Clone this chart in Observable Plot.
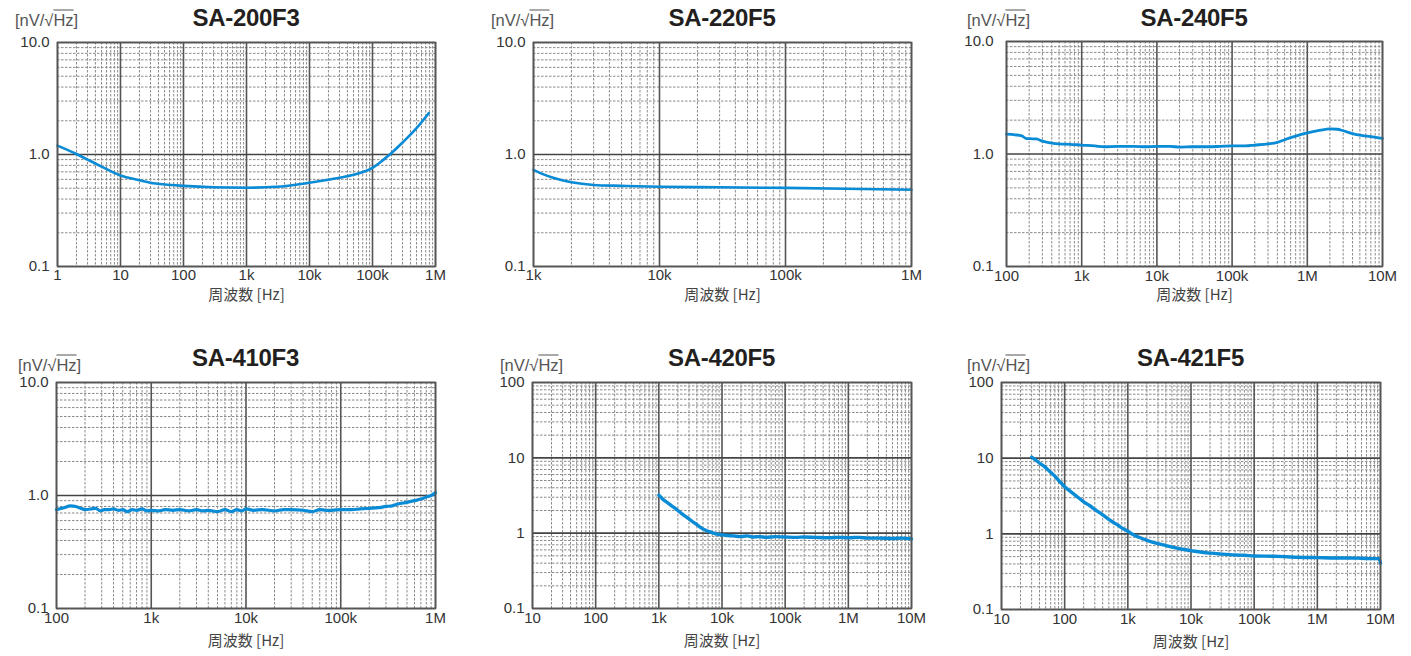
<!DOCTYPE html>
<html>
<head>
<meta charset="utf-8">
<script src="https://cdn.jsdelivr.net/npm/d3@7"></script>
<script src="https://cdn.jsdelivr.net/npm/@observablehq/plot@0.6"></script>
<style>
  html, body { margin: 0; padding: 0; background: #fff; }
  #root { position: relative; width: 1411px; height: 656px; overflow: hidden; font-family: "Liberation Sans", Arial, sans-serif; }
  .pan { position: absolute; }
  .pan svg { max-width: none !important; }
  .title { position: absolute; font-family: "Liberation Sans", Arial, sans-serif; font-weight: bold; font-size: 24px; color: #231f20; transform: translate(-50%, -50%); white-space: nowrap; letter-spacing: -0.3px; }
  .unit { position: absolute; font-family: "Liberation Sans", Arial, sans-serif; font-size: 16.5px; color: #555; transform: translateY(-50%); white-space: nowrap; }
  .unit .ol { text-decoration: overline; }
</style>
</head>
<body>
<div id="root"></div>
<script>
// ---------- tick labels ----------
const xTickValues = [1, 10, 100, 1000, 10000, 100000, 1000000, 10000000];
const xTickLabels = ["1", "10", "100", "1k", "10k", "100k", "1M", "10M"];
const yTickValues = [0.1, 1, 10, 100];
const yTickLabelsA = ["0.1", "1.0", "10.0", "100"];
const yTickLabelsB = ["0.1", "1", "10", "100"];
const axisLabel = "周波数 [Hz]";

// ---------- SA-200F3 ----------
const f200F3 = [1, 2, 3, 5, 10, 20, 30, 50, 100, 300, 1000, 3000, 10000, 30000, 50000, 100000, 150000, 200000, 300000, 500000, 780000];
const v200F3 = [1.2, 1.01, 0.9, 0.78, 0.65, 0.59, 0.56, 0.54, 0.525, 0.51, 0.505, 0.515, 0.56, 0.62, 0.66, 0.76, 0.9, 1.03, 1.28, 1.72, 2.34];

// ---------- SA-220F5 ----------
const f220F5 = [1000, 1200, 1500, 2000, 3000, 5000, 10000, 30000, 100000, 300000, 1000000];
const v220F5 = [0.73, 0.665, 0.61, 0.565, 0.535, 0.525, 0.515, 0.51, 0.503, 0.495, 0.485];

// ---------- SA-240F5 ----------
const f240F5 = [100, 130, 160, 180, 200, 250, 300, 400, 500, 700, 1000, 1500, 2000, 3000, 5000, 7000, 10000, 15000, 20000, 30000, 50000, 70000, 100000, 150000, 200000, 300000, 400000, 500000, 700000, 1000000, 1500000, 2000000, 2500000, 3000000, 4000000, 5000000, 7000000, 10000000];
const v240F5 = [1.5, 1.48, 1.45, 1.38, 1.37, 1.36, 1.3, 1.25, 1.23, 1.22, 1.2, 1.18, 1.16, 1.17, 1.17, 1.16, 1.17, 1.17, 1.15, 1.16, 1.16, 1.17, 1.18, 1.18, 1.2, 1.23, 1.27, 1.34, 1.44, 1.54, 1.63, 1.67, 1.66, 1.61, 1.52, 1.47, 1.43, 1.38];

// ---------- SA-410F3 ----------
const f410F3 = [100, 120, 140, 160, 180, 200, 230, 260, 290, 320, 360, 400, 450, 500, 560, 630, 700, 800, 900, 1000, 1200, 1400, 1700, 2000, 2500, 3000, 3500, 4000, 5000, 6000, 7000, 8000, 9000, 10000, 12000, 15000, 20000, 25000, 30000, 40000, 50000, 60000, 70000, 80000, 100000, 130000, 160000, 200000, 250000, 300000, 350000, 400000, 500000, 600000, 700000, 800000, 900000, 1000000];
const v410F3 = [0.75, 0.78, 0.81, 0.8, 0.77, 0.75, 0.76, 0.77, 0.73, 0.75, 0.75, 0.76, 0.74, 0.75, 0.72, 0.75, 0.74, 0.76, 0.73, 0.74, 0.73, 0.75, 0.74, 0.75, 0.73, 0.75, 0.73, 0.74, 0.72, 0.75, 0.72, 0.75, 0.73, 0.76, 0.74, 0.75, 0.73, 0.75, 0.75, 0.74, 0.72, 0.75, 0.74, 0.74, 0.75, 0.75, 0.76, 0.77, 0.78, 0.8, 0.81, 0.84, 0.87, 0.9, 0.93, 0.97, 1.0, 1.06];

// ---------- SA-420F5 ----------
const f420F5 = [1000, 1100, 1200, 1400, 1600, 1800, 2000, 2300, 2600, 3000, 3500, 4000, 4500, 5000, 6000, 7000, 8000, 9000, 10000, 12000, 15000, 20000, 25000, 30000, 40000, 50000, 70000, 100000, 150000, 200000, 300000, 500000, 700000, 1000000, 1500000, 2000000, 3000000, 5000000, 7000000, 10000000];
const v420F5 = [3.2, 2.95, 2.75, 2.5, 2.3, 2.15, 2.0, 1.82, 1.68, 1.55, 1.4, 1.3, 1.2, 1.14, 1.06, 1.02, 0.98, 0.96, 0.95, 0.93, 0.92, 0.9, 0.92, 0.89, 0.9, 0.88, 0.9, 0.89, 0.88, 0.89, 0.88, 0.87, 0.88, 0.87, 0.88, 0.86, 0.86, 0.85, 0.86, 0.84];

// ---------- SA-421F5 ----------
const f421F5 = [30, 35, 40, 50, 60, 70, 80, 90, 100, 120, 150, 200, 250, 300, 400, 500, 600, 700, 800, 1000, 1200, 1500, 2000, 3000, 4000, 5000, 7000, 10000, 15000, 20000, 30000, 50000, 70000, 100000, 200000, 300000, 500000, 1000000, 2000000, 3000000, 5000000, 8000000, 9500000, 10000000];
const v421F5 = [10.3, 9.4, 8.6, 7.5, 6.5, 5.8, 5.1, 4.6, 4.2, 3.7, 3.2, 2.65, 2.35, 2.1, 1.78, 1.55, 1.4, 1.3, 1.2, 1.08, 0.98, 0.9, 0.82, 0.74, 0.7, 0.67, 0.63, 0.6, 0.57, 0.555, 0.54, 0.525, 0.52, 0.51, 0.505, 0.5, 0.49, 0.485, 0.48, 0.48, 0.475, 0.47, 0.47, 0.41];

// ---------- panel layout ----------
const panels = [
  {title: "SA-200F3", f: f200F3, v: v200F3, xd: [1, 1e6], yd: [0.1, 10], yl: yTickLabelsA, x0: 57, x1: 435, y0: 42, y1: 266, unitX: 15, unitY: 20, tY: 18, sw: 2.6, xlab: 33, tickPad: 3, yPad: 8},
  {title: "SA-220F5", f: f220F5, v: v220F5, xd: [1e3, 1e6], yd: [0.1, 10], yl: yTickLabelsA, x0: 533, x1: 911, y0: 42, y1: 266, unitX: 491, unitY: 20, tY: 18, sw: 2.6, xlab: 33, tickPad: 3, yPad: 8},
  {title: "SA-240F5", f: f240F5, v: v240F5, xd: [1e2, 1e7], yd: [0.1, 10], yl: yTickLabelsA, x0: 1006, x1: 1382, y0: 41, y1: 266, unitX: 967, unitY: 20, tY: 18, sw: 2.8, xlab: 33, tickPad: 4, yPad: 13},
  {title: "SA-410F3", f: f410F3, v: v410F3, xd: [1e2, 1e6], yd: [0.1, 10], yl: yTickLabelsA, x0: 56, x1: 435, y0: 382, y1: 608, unitX: 18, unitY: 365, tY: 358, sw: 3.2, xlab: 37, tickPad: 4, yPad: 8},
  {title: "SA-420F5", f: f420F5, v: v420F5, xd: [10, 1e7], yd: [0.1, 100], yl: yTickLabelsB, x0: 532, x1: 911, y0: 382, y1: 608, unitX: 500, unitY: 365, tY: 358, sw: 3.4, xlab: 37, tickPad: 4, yPad: 8},
  {title: "SA-421F5", f: f421F5, v: v421F5, xd: [10, 1e7], yd: [0.1, 100], yl: yTickLabelsB, x0: 1001, x1: 1380, y0: 382, y1: 609, unitX: 967, unitY: 365, tY: 358, sw: 3.4, xlab: 37, tickPad: 4, yPad: 8}
];

const mL = 60, mR = 28, mT = 12, mB = 50;
const root = document.getElementById("root");

function decadesIn(d) {
  const out = [];
  for (let e = Math.round(Math.log10(d[0])); e <= Math.round(Math.log10(d[1])); e++) out.push(Math.pow(10, e));
  return out;
}
function minorsIn(d) {
  const out = [];
  for (const base of decadesIn(d)) {
    for (let k = 2; k <= 9; k++) { const val = base * k; if (val < d[1]) out.push(val); }
  }
  return out;
}

for (const p of panels) {
  const data = p.f.map((f, i) => ({f, v: p.v[i]}));
  const xMajor = decadesIn(p.xd);
  const yMajor = decadesIn(p.yd);
  const xTicks = xTickValues.filter(t => t >= p.xd[0] && t <= p.xd[1]);
  const yTicks = yTickValues.filter(t => t >= p.yd[0] && t <= p.yd[1]);
  const W = p.x1 - p.x0 + mL + mR;
  const H = p.y1 - p.y0 + mT + mB;
  const chart = Plot.plot({
    width: W,
    height: H,
    marginLeft: mL, marginRight: mR, marginTop: mT, marginBottom: mB,
    style: {fontFamily: "Liberation Sans, Arial, sans-serif", fontSize: "15px", color: "#333", background: "transparent", overflow: "visible", maxWidth: "none"},
    x: {type: "log", domain: p.xd, ticks: xTicks, tickFormat: t => xTickLabels[xTickValues.indexOf(t)], tickSize: 0, tickPadding: p.tickPad, label: null},
    y: {type: "log", domain: p.yd, ticks: yTicks, tickFormat: t => p.yl[yTickValues.indexOf(t)], tickSize: 0, tickPadding: p.yPad, label: null},
    marks: [
      Plot.ruleX(minorsIn(p.xd), {stroke: "#8a8a8a", strokeWidth: 1, strokeDasharray: "2.5,1.5"}),
      Plot.ruleY(minorsIn(p.yd), {stroke: "#8a8a8a", strokeWidth: 1, strokeDasharray: "2.5,1.5"}),
      Plot.ruleX(xMajor, {stroke: "#555", strokeWidth: 1.6}),
      Plot.ruleY(yMajor, {stroke: "#444", strokeWidth: 1.6}),
      Plot.line(data, {x: "f", y: "v", stroke: "#0a8bd6", strokeWidth: p.sw, curve: "monotone-x"}),
      Plot.frame({stroke: "#555", strokeWidth: 1.6}),
      Plot.text([axisLabel], {frameAnchor: "bottom", dy: p.xlab, fontSize: 15, fill: "#444", fontFamily: "Noto Sans CJK JP, sans-serif"})
    ]
  });
  const holder = document.createElement("div");
  holder.className = "pan";
  holder.style.left = (p.x0 - mL) + "px";
  holder.style.top = (p.y0 - mT) + "px";
  holder.style.width = W + "px";
  holder.style.height = H + "px";
  holder.appendChild(chart);
  root.appendChild(holder);

  const t = document.createElement("div");
  t.className = "title";
  t.textContent = p.title;
  t.style.left = ((p.x0 + p.x1) / 2) + "px";
  t.style.top = p.tY + "px";
  root.appendChild(t);

  const u = document.createElement("div");
  u.className = "unit";
  u.innerHTML = '[nV/√<span class="ol">Hz</span>]';
  u.style.left = p.unitX + "px";
  u.style.top = p.unitY + "px";
  root.appendChild(u);
}
</script>
</body>
</html>
